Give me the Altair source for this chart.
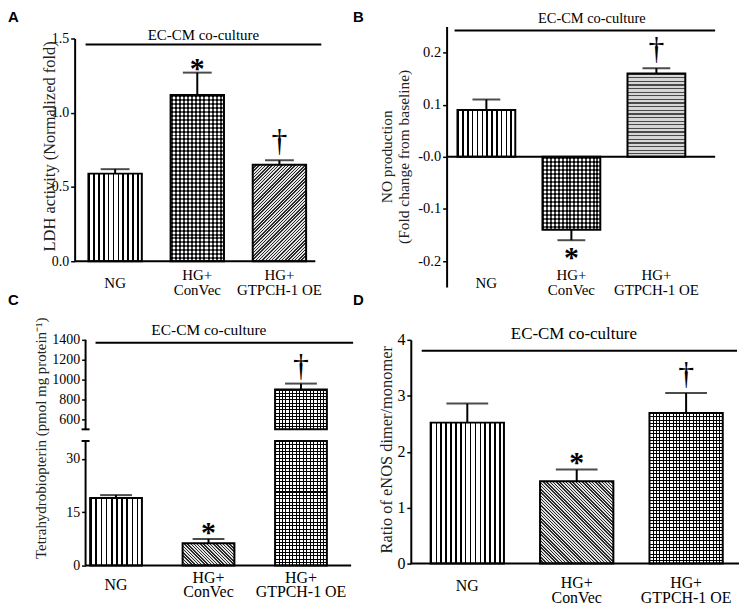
import math
import altair as alt
import pandas as pd

# ---------------- data ----------------
cats = ["NG", "HG+ ConVec", "HG+ GTPCH-1 OE"]
cat_labels = ["NG", "HG+\nConVec", "HG+\nGTPCH-1 OE"]

a_val = [0.59, 1.12, 0.65]
a_err = [0.62, 1.27, 0.68]
b_val = [0.09, -0.14, 0.16]
b_err = [0.11, -0.16, 0.17]
c_val = [19.0, 6.3, 900.0]
c_err = [19.8, 7.5, 960.0]
d_val = [2.52, 1.47, 2.69]
d_err = [2.86, 1.68, 3.05]

sig = ["", "*", "\u2020"]

a_ticks = [0, 0.5, 1.0, 1.5]
b_ticks = [-0.2, -0.1, 0.0, 0.1, 0.2]
c_ticks = [0, 15, 30, 600, 800, 1000, 1200, 1400]
d_ticks = [0, 1, 2, 3, 4]

SERIF = "Liberation Serif"


# ---------------- pattern helpers (styling only) ----------------
def stripes(n, c1, c2, frac, x1, y1, x2, y2):
    n = max(1, int(round(n)))
    stops = []
    for i in range(n):
        a = i / n
        b = (i + frac) / n
        c = (i + 1) / n
        stops += [
            {"offset": round(a, 5), "color": c1},
            {"offset": round(b, 5), "color": c1},
            {"offset": round(b, 5), "color": c2},
            {"offset": round(c, 5), "color": c2},
        ]
    return {"gradient": "linear", "x1": x1, "y1": y1, "x2": x2, "y2": y2, "stops": stops}


def pattern(kind, w, h):
    if kind == "vstripe":
        return [stripes(w / 5.0, "#000", "#fff", 0.32, 0, 0, 1, 0)]
    if kind == "checker":
        return [stripes(w / 4.0, "#000", "#fff", 0.5, 0, 0, 1, 0),
                stripes(h / 4.0, "rgba(0,0,0,0.62)", "rgba(255,255,255,0.3)", 0.5, 0, 0, 0, 1)]
    if kind in ("diag_up", "diag_down"):
        k = (w + h) / (w * w + h * h)
        n = (w + h) / (2.3 * math.sqrt(2))
        if kind == "diag_up":
            return [stripes(n, "#2a2a2a", "#e2e2e2", 0.45, 0, 0, k * w, k * h)]
        return [stripes(n, "#2a2a2a", "#e2e2e2", 0.45, 0, 1, k * w, 1 - k * h)]
    if kind == "hbrick":
        return [stripes(h / 3.6, "#4a4a4a", "#d6d6d6", 0.35, 0, 0, 0, 1)]
    if kind == "grid":
        return [stripes(w / 3.4, "#000", "#fff", 0.3, 0, 0, 1, 0),
                stripes(h / 3.4, "#000", "rgba(0,0,0,0)", 0.3, 0, 0, 0, 1)]
    return ["#ffffff"]


def build(p):
    W, H = p["W"], p["H"]
    dom, rng = p["dom"], p["rng"]
    n = len(cats)
    step = W / (n - p["pi"] + 2 * p["po"])
    bw = step * (1 - p["pi"])

    def ypix(v):
        for j in range(len(dom) - 1):
            if dom[j] <= v <= dom[j + 1] or j == len(dom) - 2:
                t = (v - dom[j]) / (dom[j + 1] - dom[j])
                return rng[j] + t * (rng[j + 1] - rng[j])

    xenc = alt.X("cat:N", scale=alt.Scale(domain=cats, paddingInner=p["pi"],
                                          paddingOuter=p["po"], align=p["al"]), axis=None)
    yscale = alt.Scale(domain=dom, range=rng, nice=False, zero=False)
    axis = alt.Axis(values=p["ticks"], labelExpr=p["lexpr"], domain=p.get("domain", True),
                    domainWidth=2, domainColor="black", tickWidth=1.5, tickColor="black",
                    tickSize=4, labelPadding=2, labelFont=SERIF, labelFontSize=p["lfs"],
                    labelColor="black", labelFlush=False, labelOverlap=False, grid=False,
                    title=p["title"], titleFont=SERIF, titleFontSize=p["tfs"],
                    titleFontWeight="normal", titleColor="#222", titleAngle=270,
                    titleX=p["tx"], titleY=p["ty"], titleAlign="center",
                    titleBaseline="middle", titleLineHeight=17, offset=p.get("offset", 0))

    def yenc(field):
        return alt.Y(field, type="quantitative", scale=yscale, axis=axis)

    vals, errs = p["vals"], p["errs"]
    layers = []

    # bar pieces
    pieces = []
    for i, c in enumerate(cats):
        v = vals[i]
        brk = p.get("brk")
        if brk and v > brk[1]:
            pieces += [(c, 0, brk[0], p["pats"][i]), (c, brk[1], v, p["pats"][i])]
        else:
            pieces.append((c, 0, v, p["pats"][i]))
    for (c, y0, y1, kind) in pieces:
        h = abs(ypix(y1) - ypix(y0))
        dfp = pd.DataFrame({"cat": [c], "y0": [y0], "y1": [y1]})
        for g in pattern(kind, bw, h):
            layers.append(alt.Chart(dfp).mark_bar(fill=g, strokeWidth=0)
                          .encode(x=xenc, y=yenc("y0"), y2="y1"))
    dfo = pd.DataFrame({"cat": [q[0] for q in pieces], "y0": [q[1] for q in pieces],
                        "y1": [q[2] for q in pieces]})
    layers.append(alt.Chart(dfo).mark_bar(fillOpacity=0, stroke="black", strokeWidth=2)
                  .encode(x=xenc, y=yenc("y0"), y2="y1"))

    # error bars
    dfe = pd.DataFrame({"cat": cats, "val": vals, "err": errs, "sig": sig})
    layers.append(alt.Chart(dfe).mark_rule(color="black", strokeWidth=2)
                  .encode(x=xenc, y=yenc("val"), y2="err"))
    layers.append(alt.Chart(dfe).mark_tick(color="black", thickness=2, size=p["cap"])
                  .encode(x=xenc, y=yenc("err")))

    # significance marks
    layers.append(alt.Chart(dfe[dfe["sig"] == "*"]).mark_text(
        font=SERIF, fontSize=30, fontWeight="bold", dy=p["sdy"], baseline="alphabetic",
        color="black")
        .encode(x=xenc, y=yenc("err"), text="sig:N"))
    layers.append(alt.Chart(dfe[dfe["sig"] == "\u2020"]).mark_text(
        font=SERIF, fontSize=32, dy=p["ddy"], baseline="alphabetic", color="black")
        .encode(x=xenc, y=yenc("err"), text="sig:N"))

    # zero line (x axis)
    dfz = pd.DataFrame({"v": [0.0]})
    layers.append(alt.Chart(dfz).mark_rule(color="black", strokeWidth=2)
                  .encode(y=yenc("v"), x=alt.value(p["zx"][0]), x2=alt.value(p["zx"][1])))

    # custom broken axis segments
    if p.get("segs"):
        dfs = pd.DataFrame({"lo": [s[0] for s in p["segs"]], "hi": [s[1] for s in p["segs"]]})
        layers.append(alt.Chart(dfs).mark_rule(color="black", strokeWidth=2)
                      .encode(x=alt.value(p["zx"][0]), y=yenc("lo"), y2="hi"))
        dfc = pd.DataFrame({"v": p["caps"]})
        layers.append(alt.Chart(dfc).mark_rule(color="black", strokeWidth=2)
                      .encode(x=alt.value(p["zx"][0] - 4), x2=alt.value(p["zx"][0] + 4),
                              y=yenc("v")))

    # category labels (single-line and two-line, each block centred)
    dfl = pd.DataFrame({"cat": cats, "lab": cat_labels})
    single = dfl[~dfl["lab"].str.contains("\n")]
    multi = dfl[dfl["lab"].str.contains("\n")]
    layers.append(alt.Chart(single).mark_text(font=SERIF, fontSize=p["xfs"], baseline="middle",
                                              align="center", color="black")
                  .encode(x=xenc, y=alt.value(p["ny"]), text="lab:N"))
    layers.append(alt.Chart(multi).mark_text(font=SERIF, fontSize=p["xfs"], lineBreak="\n",
                                             lineHeight=p["xlh"], baseline="middle",
                                             align="center", color="black")
                  .encode(x=xenc, y=alt.value(p["my"] - p["xlh"] / 2), text="lab:N"))

    # header line + text + panel letter
    dft = pd.DataFrame({"t": ["EC-CM co-culture"], "L": [p["letter"]]})
    layers.append(alt.Chart(dft).mark_rule(color="black", strokeWidth=2)
                  .encode(x=alt.value(p["hl"][0]), x2=alt.value(p["hl"][1]),
                          y=alt.value(p["hl"][2])))
    layers.append(alt.Chart(dft).mark_text(font=SERIF, fontSize=p["hfs"], baseline="middle",
                                           align="center", color="black")
                  .encode(x=alt.value(p["ht"][0]), y=alt.value(p["ht"][1]), text="t:N"))
    layers.append(alt.Chart(dft).mark_text(font="Liberation Sans", fontSize=15,
                                           fontWeight="bold", baseline="top", align="left",
                                           color="black")
                  .encode(x=alt.value(p["lt"][0]), y=alt.value(p["lt"][1]), text="L:N"))

    return alt.layer(*layers).properties(width=W, height=H)


pA = dict(W=242, H=262, dom=[0, 1.5], rng=[236, 12], pi=0.35, po=0.14, al=0.6,
          vals=a_val, errs=a_err, pats=["vstripe", "checker", "diag_up"],
          ticks=a_ticks, lexpr="format(datum.value, '.1f')", lfs=14,
          title="LDH activity (Normalized fold)", tfs=16.5, tx=-25, ty=120,
          cap=29, sdy=5, ddy=-9, zx=(0, 242), xfs=15, xlh=15, ny=258, my=257.5,
          hl=(11, 248, 18), ht=(129.5, 9), hfs=15, lt=(-67, -17), letter="A")

# panel B sits in the second grid column (starting 36 px left of its axis)
pB = dict(W=306, H=262, dom=[-0.25, 0.25], rng=[262, 0], pi=0.32, po=0.45, al=0.61,
          vals=b_val, errs=b_err, pats=["vstripe", "checker", "hbrick"],
          ticks=b_ticks, offset=-36,
          lexpr="datum.value <= 0 ? '-' + format(abs(datum.value), '.1f') : format(datum.value, '.1f')",
          lfs=14.5, title=["NO production", "(Fold change from baseline)"], tfs=15.5,
          tx=-60, ty=130.5, cap=28, sdy=27, ddy=-9, zx=(36, 306), xfs=15, xlh=15,
          ny=258, my=257.5, hl=(44, 306, 4), ht=(182, -8), hfs=14.5, lt=(-58, -17),
          letter="B")

pC = dict(W=278, H=227, dom=[0, 35, 500, 1400], rng=[227, 101.7, 90, 0], pi=0.44,
          po=0.215, al=0.39, vals=c_val, errs=c_err, pats=["vstripe", "diag_down", "grid"],
          brk=(35, 500), segs=[(0, 35), (500, 1400)], caps=[35, 500],
          ticks=c_ticks, lexpr="format(datum.value, 'd')", lfs=14, domain=False, offset=-11,
          title="Tetrahydrobiopterin (pmol mg protein\u207b\u00b9)", tfs=15, tx=-45, ty=98.5,
          cap=32, sdy=3, ddy=-8, zx=(11, 278), xfs=16, xlh=13.5, ny=247, my=246.5,
          hl=(21, 280, 3), ht=(135, -10), hfs=15.5, lt=(-67, -47), letter="C")

pD = dict(W=330, H=225, dom=[0, 4], rng=[225, 0], pi=0.33, po=0.165, al=0.55,
          vals=d_val, errs=d_err, pats=["vstripe", "diag_down", "grid"],
          ticks=d_ticks, lexpr="format(datum.value, 'd')", lfs=16,
          title="Ratio of eNOS dimer/monomer", tfs=16.5, tx=-24, ty=110,
          cap=42, sdy=2, ddy=-9, zx=(0, 330), xfs=16, xlh=14.5, ny=248, my=252,
          hl=(11, 328, 11), ht=(164, -6), hfs=17, lt=(-58, -47), letter="D")

chart = (alt.concat(build(pA), build(pB), build(pC), build(pD), columns=2,
                    spacing={"row": 53, "column": 60}, bounds="flush")
         .properties(padding=0, background="white")
         .configure_view(stroke=None)
         .configure_axis(labelFont=SERIF, titleFont=SERIF))

chart.save("out.html", embed_options={"renderer": "svg", "actions": False})
